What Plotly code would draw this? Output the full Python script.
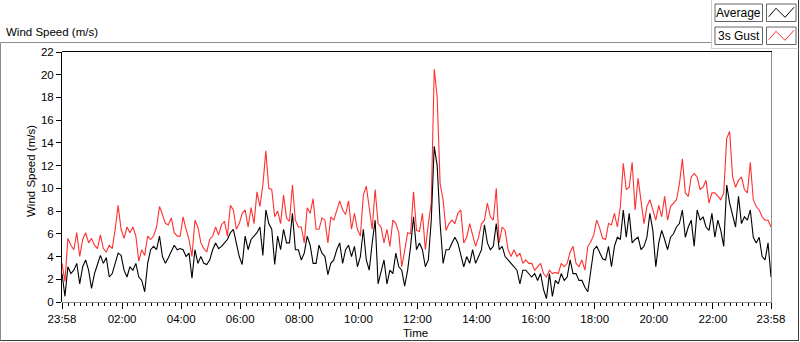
import plotly.graph_objects as go

# ---- data (6-minute samples from 23:58 to 23:58) ----
avg_speed = [
    2.5, 0.5, 3.1, 2.5, 2.8, 3.4, 1.6, 3.1, 3.7, 2.8,
    1.2, 2.5, 3.3, 4.1, 3.4, 3.9, 2.2, 2.5, 3.4, 4.3,
    4.1, 2.8, 2.2, 3.1, 2.8, 3.4, 2.2, 1.9, 0.9, 3.4,
    4.6, 4.9, 4.6, 5.8, 4.0, 3.4, 3.9, 4.4, 5.0, 4.6,
    4.7, 4.6, 4.0, 4.3, 2.1, 4.6, 3.4, 4.0, 3.4, 3.3,
    3.7, 4.6, 5.2, 4.7, 4.9, 5.2, 5.5, 6.1, 6.4,
    5.2, 4.0, 3.3, 5.8, 4.6, 5.5, 5.8, 6.1, 6.6, 4.1,
    8.1, 6.9, 6.4, 3.3, 5.8, 4.6, 6.4, 5.2, 5.2, 7.8,
    4.6, 4.6, 3.7, 4.3, 5.8, 5.0, 3.4, 3.4, 5.0, 4.3,
    4.0, 2.4, 3.4, 3.7, 4.6, 5.2, 3.4, 4.6, 5.0, 4.0,
    4.9, 3.1, 4.0, 6.4, 3.7, 2.8, 5.2, 7.2, 1.6, 2.8,
    3.7, 1.6, 2.8, 2.5, 4.3, 3.1, 2.8, 1.4, 2.8,
    4.9, 7.5, 4.6, 5.2, 4.6, 3.1, 3.7, 7.2, 13.7, 12.0,
    6.9, 3.4, 4.6, 4.6, 5.2, 5.7, 5.2, 4.0, 3.1, 4.0,
    3.4, 4.6, 3.4, 4.0, 4.6, 6.8, 5.2, 4.6, 4.9, 6.9,
    4.6, 4.9, 4.0, 3.7, 3.4, 3.1, 2.8, 1.6, 2.8, 2.8,
    2.5, 2.2, 2.5, 1.9, 2.5, 1.1, 0.3, 2.5, 0.5, 1.9,
    1.6, 2.5, 1.9, 2.2, 3.7, 2.5, 2.5, 1.9,
    1.9, 1.3, 0.9, 2.8, 4.6, 4.9, 4.3, 3.8, 3.7, 4.9,
    3.1, 4.9, 5.7, 5.5, 8.1, 5.7, 7.8, 5.2, 5.5, 5.7,
    4.6, 4.9, 5.7, 7.8, 6.3, 3.1, 5.2, 6.3, 5.5, 4.6,
    5.7, 6.0, 6.6, 6.9, 8.1, 5.7, 6.6, 7.2, 4.9, 8.1,
    7.2, 7.5, 6.6, 6.3, 7.8, 5.7, 7.2, 6.3, 4.9, 10.3,
    8.7, 7.5, 6.6, 9.3, 6.9, 7.5, 7.2, 8.1, 5.7, 5.2,
    5.7, 4.0, 3.7, 5.2, 2.2,
]

gust_speed = [
    3.4, 1.8, 5.6, 5.0, 4.6, 6.1, 4.0, 5.5, 6.1, 5.2,
    5.6, 5.0, 4.7, 5.9, 4.7, 4.4, 5.0, 4.7, 6.4, 8.5,
    6.4, 5.6, 6.6, 6.1, 6.6, 5.8, 3.6, 4.6, 4.1, 5.8,
    5.5, 5.8, 6.6, 8.4, 7.7, 6.9, 6.8, 7.4, 6.1, 5.8,
    5.8, 7.5, 6.4, 5.5, 4.0, 7.2, 6.6, 5.2, 4.7, 4.4,
    5.5, 5.8, 6.6, 5.9, 6.8, 7.1, 5.8, 8.5, 8.1,
    6.4, 6.9, 7.8, 8.1, 6.6, 8.3, 6.9, 9.7, 8.4, 10.3,
    13.3, 10.0, 9.9, 7.5, 8.0, 6.9, 9.4, 7.4, 7.1, 10.3,
    7.2, 6.6, 6.6, 5.2, 8.3, 7.8, 9.1, 6.4, 6.4, 7.4,
    7.2, 5.2, 7.5, 7.2, 8.0, 8.9, 8.1, 7.7, 8.9, 6.4,
    7.8, 6.4, 5.8, 9.4, 10.2, 8.1, 6.4, 9.9, 6.9, 6.6,
    5.2, 6.4, 4.9, 7.2, 6.9, 6.1, 3.1, 4.5, 6.1,
    6.0, 9.7, 6.3, 6.2, 7.8, 4.6, 6.9, 8.7, 20.5, 18.0,
    10.4, 9.0, 6.3, 6.9, 7.2, 6.9, 7.8, 8.1, 5.2, 5.7,
    6.9, 6.0, 4.9, 5.7, 6.9, 7.2, 8.7, 7.5, 7.2, 10.0,
    5.2, 6.6, 6.3, 4.6, 4.0, 4.6, 4.0, 4.3, 3.4, 3.7,
    3.4, 3.4, 2.8, 3.1, 3.4, 2.5, 2.2, 2.8, 2.5, 2.6,
    2.5, 3.4, 3.1, 3.4, 4.4, 4.9, 3.4, 3.1,
    3.7, 2.8, 4.9, 5.3, 5.9, 7.2, 6.5, 5.6, 5.5, 6.9,
    6.8, 7.8, 6.6, 8.4, 12.2, 9.9, 10.1, 12.3, 8.1, 10.9,
    8.7, 6.9, 8.4, 9.0, 8.1, 7.2, 8.5, 7.5, 9.3, 7.2,
    8.4, 8.7, 9.0, 10.4, 12.6, 9.6, 9.3, 11.0, 11.3, 11.0,
    9.9, 10.1, 10.7, 8.7, 9.6, 9.6, 9.3, 9.0, 9.6, 14.4,
    15.0, 11.0, 10.1, 10.7, 11.0, 9.9, 9.6, 12.3, 9.0, 8.4,
    8.1, 7.5, 7.2, 7.2, 6.6,
]

start_minute = -2          # 23:58 of previous day
sample_minutes = 6
time_hours = [(start_minute + sample_minutes * i) / 60.0 for i in range(len(avg_speed))]

x_tick_values = [-2 / 60, 2, 4, 6, 8, 10, 12, 14, 16, 18, 20, 22, 24 - 2 / 60]
x_tick_labels = ["23:58", "02:00", "04:00", "06:00", "08:00", "10:00", "12:00",
                 "14:00", "16:00", "18:00", "20:00", "22:00", "23:58"]
y_tick_values = list(range(0, 23, 2))

# ---- layout geometry (pixels) ----
W, H = 800, 342
PL, PR, PT, PB = 62, 771, 52, 302


def px(x):
    return (x - PL) / (PR - PL)


def py(y):
    return (PB - y) / (PB - PT)


FONT = "Liberation Sans, Arial, sans-serif"

fig = go.Figure()
fig.add_trace(go.Scatter(x=time_hours, y=gust_speed, mode="lines", name="3s Gust",
                         line=dict(color="#ff3030", width=1.1)))
fig.add_trace(go.Scatter(x=time_hours, y=avg_speed, mode="lines", name="Average",
                         line=dict(color="#000000", width=1.1)))

shapes = []


def line(x0, y0, x1, y1, color, width=1):
    shapes.append(dict(type="line", xref="paper", yref="paper",
                       x0=px(x0), y0=py(y0), x1=px(x1), y1=py(y1),
                       line=dict(color=color, width=width), layer="above"))


# outer frame
line(0.5, 42.5, 711.5, 42.5, "#8c8c8c")
line(0.5, 42.5, 0.5, 341, "#8c8c8c")
line(0.5, 340.5, 799, 340.5, "#3c3c3c")
line(798.5, 0, 798.5, 341, "#3c3c3c")
# legend area frame
line(711.5, 0, 711.5, 49, "#d0d0d0")
line(711.5, 48.5, 798.5, 48.5, "#d0d0d0")
# plot frame
line(PL, PT - 0.5, PR + 1, PT - 0.5, "#000000")
line(PL - 0.5, PT, PL - 0.5, PB, "#000000")
line(PR + 0.5, PT, PR + 0.5, PB + 0.5, "#8c8c8c")
line(PL, PB + 0.5, PR + 1, PB + 0.5, "#8c8c8c")

# legend boxes
annotations = []
for row, (label, col) in enumerate([("Average", "#000000"), ("3s Gust", "#ff3030")]):
    oy = row * 23
    shapes.append(dict(type="rect", xref="paper", yref="paper",
                       x0=px(715), x1=px(762.5), y0=py(4 + oy), y1=py(21.5 + oy),
                       line=dict(color="#646464", width=1), fillcolor="white", layer="above"))
    shapes.append(dict(type="rect", xref="paper", yref="paper",
                       x0=px(766.5), x1=px(796), y0=py(4 + oy), y1=py(21.5 + oy),
                       line=dict(color="#646464", width=1), fillcolor="white", layer="above"))
    pts = [(768.7, 16.7), (776, 8.3), (785, 17.3), (794, 7.3)]
    path = "M " + " L ".join(f"{px(a)},{py(b + oy)}" for a, b in pts)
    shapes.append(dict(type="path", xref="paper", yref="paper", path=path,
                       line=dict(color=col, width=1), layer="above"))
    annotations.append(dict(text=label, xref="paper", yref="paper", x=px(738.8), y=py(13 + oy),
                            showarrow=False, xanchor="center", yanchor="middle",
                            font=dict(family=FONT, size=12, color="#000000")))

annotations += [
    dict(text="Wind Speed (m/s)", xref="paper", yref="paper", x=px(4), y=py(32),
         showarrow=False, xanchor="left", yanchor="middle",
         font=dict(family=FONT, size=11.5, color="#000000")),
    dict(text="Wind Speed (m/s)", xref="paper", yref="paper", x=px(31), y=py(171),
         showarrow=False, xanchor="center", yanchor="middle", textangle=-90,
         font=dict(family=FONT, size=11.5, color="#000000")),
    dict(text="Time", xref="paper", yref="paper", x=px(415), y=py(333),
         showarrow=False, xanchor="center", yanchor="middle",
         font=dict(family=FONT, size=11.5, color="#000000")),
]

fig.update_layout(
    width=W, height=H,
    margin=dict(l=PL, r=W - PR, t=PT, b=H - PB),
    paper_bgcolor="white", plot_bgcolor="white",
    showlegend=False,
    shapes=shapes, annotations=annotations,
    xaxis=dict(range=[-2 / 60, 24 - 2 / 60], tickmode="array", tickvals=x_tick_values,
               ticktext=x_tick_labels, ticks="outside", ticklen=6, tickcolor="#000000",
               showgrid=False, zeroline=False, showline=False,
               tickfont=dict(family=FONT, size=11.5, color="#000000"),
               minor=dict(ticks="outside", ticklen=3, tick0=0, dtick=0.2, tickcolor="#000000",
                          showgrid=False)),
    yaxis=dict(range=[0, 22], tickmode="array", tickvals=y_tick_values,
               ticks="outside", ticklen=5, tickcolor="#000000",
               showgrid=False, zeroline=False, showline=False,
               tickfont=dict(family=FONT, size=11.5, color="#000000")),
)

fig.write_html("out.html", config={"displayModeBar": False})

# remove the default page margin so the figure sits at the window's top-left corner
with open("out.html", "r", encoding="utf-8") as f:
    html = f.read()
html = html.replace("<head>", "<head><style>html,body{margin:0;padding:0;overflow:hidden;}</style>", 1)
with open("out.html", "w", encoding="utf-8") as f:
    f.write(html)
